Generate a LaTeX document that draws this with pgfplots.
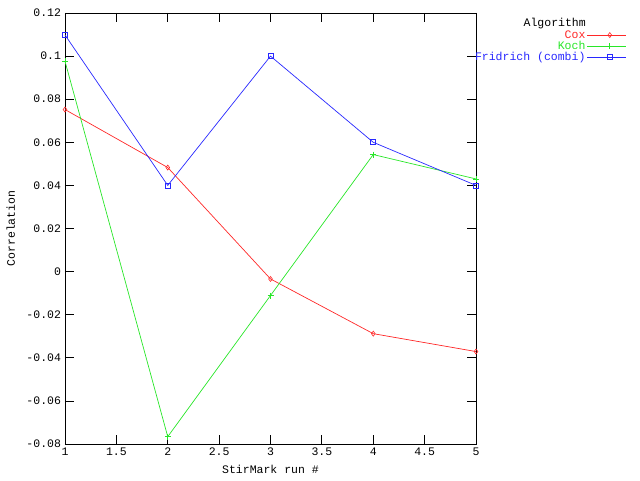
\documentclass[border=0pt]{standalone}
\usepackage{pgfplots}
\pgfplotsset{compat=1.18}
\usepackage{fontspec}
\setmainfont{Liberation Mono}
\definecolor{gred}{RGB}{255,40,40}
\definecolor{ggreen}{RGB}{40,230,40}
\definecolor{gblue}{RGB}{40,40,255}
\begin{document}
\fontsize{11.5}{13}\selectfont
\begin{tikzpicture}
\useasboundingbox (0,0) rectangle (640pt,480pt);
\begin{axis}[
  at={(65pt,36pt)}, anchor=south west,
  scale only axis, width=411pt, height=431pt,
  xmin=1, xmax=5, ymin=-0.08, ymax=0.12,
  xtick={1,1.5,...,5}, ytick={-0.08,-0.06,...,0.121},
  scaled y ticks=false, scaled x ticks=false,
  /pgf/number format/assume math mode=true,
  yticklabel style={/pgf/number format/fixed, /pgf/number format/precision=2},
  xticklabel style={/pgf/number format/fixed},
  tick align=inside, major tick length=9pt, tick style={black, line width=0.8pt},
  axis line style={line width=0.8pt},
  xlabel={StirMark run \#}, ylabel={Correlation},
  xlabel style={at={(axis description cs:0.5,0)}, anchor=north, yshift=-17pt},
  ylabel style={at={(axis description cs:0,0.5)}, anchor=south, yshift=46pt},
  legend style={at={(axis description cs:1.367,0.962)}, anchor=north east, draw=none, fill=none, inner sep=0pt,
    nodes={text height=7pt, text depth=1pt, inner sep=1.5pt}, row sep=0pt},
  legend plot pos=right,
  legend cell align=right,
  legend image code/.code={\path (0pt,0pt) -- (6pt,0pt); \draw[mark repeat=2,mark phase=2,#1] plot coordinates {(6pt,0pt) (22.5pt,0pt) (39pt,0pt)};},
]
\addplot[color=gred, line width=0.7pt, mark=diamond, mark size=2.5pt, mark options={line width=0.6pt}] coordinates {
(1,0.0752) (2,0.0483) (3,-0.0034) (4,-0.0288) (5,-0.0371)};
\addlegendentry{\textcolor{gred}{Cox}}
\addplot[color=ggreen, line width=0.7pt, mark=+, mark size=3pt, mark options={line width=0.6pt}] coordinates {
(1,0.0976) (2,-0.0766) (3,-0.0111) (4,0.0543) (5,0.043)};
\addlegendentry{\textcolor{ggreen}{Koch}}
\addplot[color=gblue, line width=0.7pt, mark=square, mark size=2.5pt, mark options={line width=0.6pt}] coordinates {
(1,0.1098) (2,0.040) (3,0.100) (4,0.060) (5,0.040)};
\addlegendentry{\textcolor{gblue}{Fridrich (combi)}}
\end{axis}
\node[anchor=east, inner sep=0pt] at (586pt,456pt) {Algorithm};
\end{tikzpicture}
\end{document}
